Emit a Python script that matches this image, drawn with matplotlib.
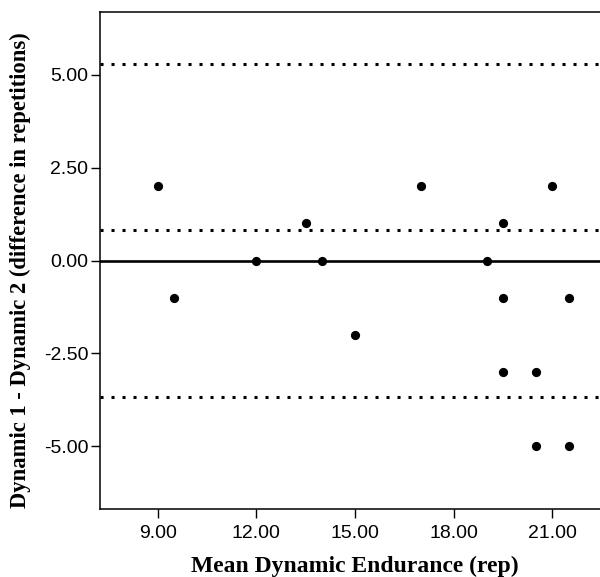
import numpy as np
import matplotlib.pyplot as plt

# mean of the two trials (x) and difference trial1 - trial2 (y)
mean_endurance = [9.0, 9.5, 12.0, 13.5, 14.0, 15.0, 17.0, 19.0, 19.5, 19.5, 19.5, 20.5, 20.5, 21.0, 21.5, 21.5]
difference = [2, -1, 0, 1, 0, -2, 2, 0, 1, -1, -3, -3, -5, 2, -1, -5]

# bias and limits of agreement
bias = 0.81
upper_loa = 5.30
lower_loa = -3.68

xticks = [9, 12, 15, 18, 21]
yticks = [-5, -2.5, 0, 2.5, 5]

fig = plt.figure(figsize=(6, 5.77), dpi=100)
ax = fig.add_axes([0.1667, 0.118, 0.8333, 0.861])

ax.axhline(0, color='black', linewidth=1.9, zorder=2)
for y in [upper_loa, bias, lower_loa]:
    ax.axhline(y, color='black', linewidth=2.2, linestyle=(0, (1, 2.6)),
               dash_capstyle='butt', zorder=2)

ax.scatter(mean_endurance, difference, s=44, color='black', linewidths=0, zorder=3)

ax.set_xlim(7.25, 22.45)
ax.set_ylim(-6.69, 6.69)
ax.set_xticks(xticks)
ax.set_xticklabels(['%.2f' % t for t in xticks])
ax.set_yticks(yticks)
ax.set_yticklabels(['%.2f' % t for t in yticks])

ax.spines['right'].set_visible(False)
for s in ['left', 'top', 'bottom']:
    ax.spines[s].set_linewidth(1.1)

ax.tick_params(direction='out', length=6.5, width=1.0, labelsize=14, pad=2)
ax.tick_params(axis='x', pad=5)
for lab in ax.get_xticklabels() + ax.get_yticklabels():
    lab.set_family(['Liberation Sans', 'DejaVu Sans'])

ax.set_xlabel('Mean Dynamic Endurance (rep)', fontsize=17, fontweight='bold',
              family=['Liberation Serif', 'DejaVu Serif'], labelpad=10)
ax.set_ylabel('Dynamic 1 - Dynamic 2 (difference in repetitions)', fontsize=16.3,
              fontweight='bold', family=['Liberation Serif', 'DejaVu Serif'], labelpad=9)
ax.xaxis.label.set_x(0.51)
ax.yaxis.label.set_y(0.48)

plt.savefig('out.png', dpi=100)
